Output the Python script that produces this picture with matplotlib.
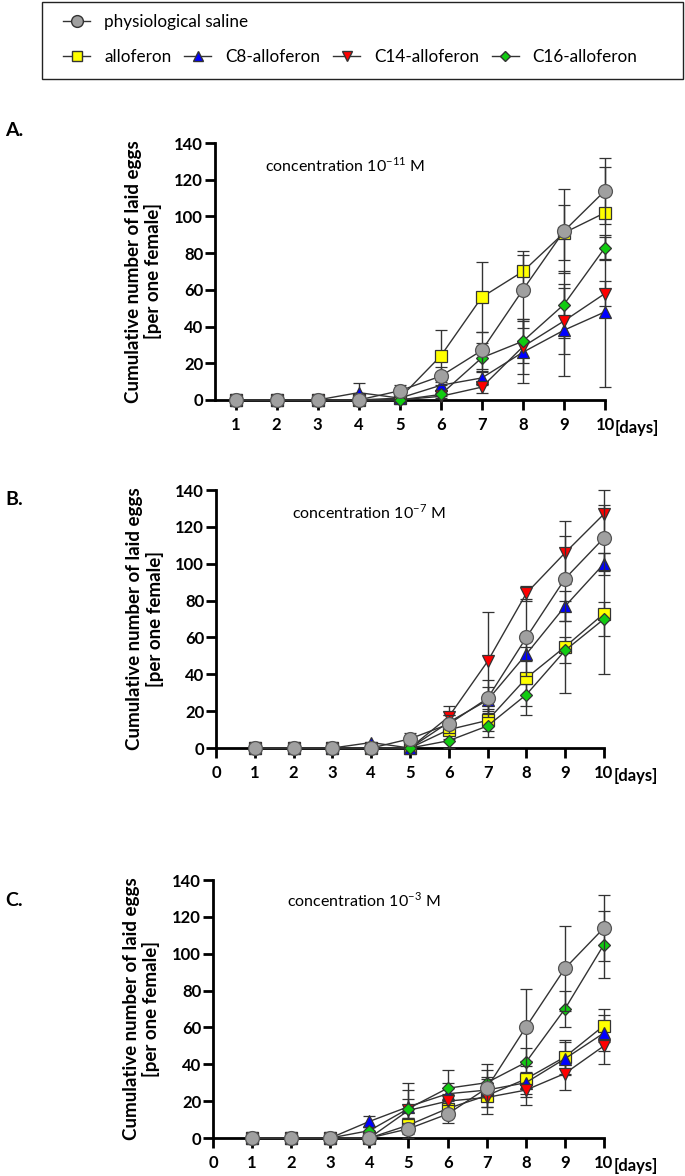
import matplotlib
matplotlib.use("Agg")
import matplotlib.pyplot as plt
from matplotlib.lines import Line2D
from matplotlib.patches import Rectangle

plt.rcParams['font.family'] = ['Lato', 'DejaVu Sans']

# days of observation
days = [1, 2, 3, 4, 5, 6, 7, 8, 9, 10]

# physiological saline (same control in every panel)
saline = [0, 0, 0, 0, 5, 13, 27, 60, 92, 114]
saline_sd = [0, 0, 0, 0, 3, 5, 10, 21, 23, 18]

# concentration 10^-11 M
allo_A = [0, 0, 0, 0, 1, 24, 56, 70, 91, 102]
allo_A_sd = [0, 0, 0, 0, 1, 14, 19, 9, 15, 25]
c8_A = [0, 0, 0, 4, 1, 8, 12, 26, 38, 48]
c8_A_sd = [0, 0, 0, 5, 1, 3, 4, 17, 25, 41]
c14_A = [0, 0, 0, 0, 0, 2, 7, 29, 43, 58]
c14_A_sd = [0, 0, 0, 0, 0, 1, 3, 15, 18, 7]
c16_A = [0, 0, 0, 0, 0, 3, 23, 32, 52, 83]
c16_A_sd = [0, 0, 0, 0, 0, 1, 8, 12, 18, 7]

# concentration 10^-7 M
allo_B = [0, 0, 0, 0, 0, 10, 15, 38, 55, 73]
allo_B_sd = [0, 0, 0, 0, 0, 5, 6, 20, 25, 33]
c8_B = [0, 0, 0, 3, 0, 14, 26, 51, 77, 100]
c8_B_sd = [0, 0, 0, 0, 0, 4, 7, 4, 8, 6]
c14_B = [0, 0, 0, 0, 0, 17, 47, 84, 106, 127]
c14_B_sd = [0, 0, 0, 0, 0, 6, 27, 4, 17, 13]
c16_B = [0, 0, 0, 0, 0, 4, 12, 29, 53, 70]
c16_B_sd = [0, 0, 0, 0, 0, 4, 6, 6, 7, 9]

# concentration 10^-3 M
allo_C = [0, 0, 0, 0, 7, 16, 23, 32, 44, 61]
allo_C_sd = [0, 0, 0, 0, 4, 4, 10, 10, 9, 9]
c8_C = [0, 0, 0, 9, 17, 24, 26, 30, 43, 57]
c8_C_sd = [0, 0, 0, 3, 9, 6, 6, 6, 9, 10]
c14_C = [0, 0, 0, 0, 15, 20, 22, 26, 35, 50]
c14_C_sd = [0, 0, 0, 0, 15, 4, 5, 8, 9, 10]
c16_C = [0, 0, 0, 4, 16, 27, 30, 41, 70, 105]
c16_C_sd = [0, 0, 0, 2, 5, 10, 10, 8, 10, 18]

labels = ['physiological saline', 'alloferon', 'C8-alloferon', 'C14-alloferon', 'C16-alloferon']
styles = {
    'physiological saline': dict(marker='o', mfc='#a0a0a0', ms=10),
    'alloferon': dict(marker='s', mfc='#ffff00', ms=9),
    'C8-alloferon': dict(marker='^', mfc='#0000ff', ms=9),
    'C14-alloferon': dict(marker='v', mfc='#ff0000', ms=9),
    'C16-alloferon': dict(marker='D', mfc='#11cc11', ms=6),
}

panels = [
    ('A.', '-11', [0.3139, 0.6599, 0.5693, 0.2185], 0.5, list(range(1, 11)),
     {'alloferon': (allo_A, allo_A_sd), 'C8-alloferon': (c8_A, c8_A_sd),
      'C14-alloferon': (c14_A, c14_A_sd), 'C16-alloferon': (c16_A, c16_A_sd)},
     (0.128, 0.914), 130),
    ('B.', '-7', [0.3153, 0.3639, 0.5664, 0.2194], 0, list(range(0, 11)),
     {'alloferon': (allo_B, allo_B_sd), 'C8-alloferon': (c8_B, c8_B_sd),
      'C14-alloferon': (c14_B, c14_B_sd), 'C16-alloferon': (c16_B, c16_B_sd)},
     (0.196, 0.915), 500),
    ('C.', '-3', [0.3109, 0.0323, 0.5708, 0.2194], 0, list(range(0, 11)),
     {'alloferon': (allo_C, allo_C_sd), 'C8-alloferon': (c8_C, c8_C_sd),
      'C14-alloferon': (c14_C, c14_C_sd), 'C16-alloferon': (c16_C, c16_C_sd)},
     (0.189, 0.919), 900),
]

fig = plt.figure(figsize=(6.85, 11.76), dpi=100)

for letter, conc, rect, xmin, xticks, series, txtpos, ly in panels:
    ax = fig.add_axes(rect)
    order = ['alloferon', 'C8-alloferon', 'C14-alloferon', 'C16-alloferon']
    for name in order:
        vals, sd = series[name]
        st = styles[name]
        ax.errorbar(days, vals, yerr=sd, color='#333333', lw=1.0, elinewidth=1.0,
                    capsize=4, capthick=1.0, marker=st['marker'], mfc=st['mfc'],
                    mec='#333333', mew=0.9, ms=st['ms'], clip_on=False, zorder=3)
    st = styles['physiological saline']
    ax.errorbar(days, saline, yerr=saline_sd, color='#333333', lw=1.0, elinewidth=1.0,
                capsize=4, capthick=1.0, marker=st['marker'], mfc=st['mfc'],
                mec='#555555', mew=0.9, ms=st['ms'], clip_on=False, zorder=4)

    ax.set_xlim(xmin, 10)
    ax.set_ylim(0, 140)
    ax.set_xticks(xticks)
    ax.set_yticks(range(0, 141, 20))
    for s in ['top', 'right']:
        ax.spines[s].set_visible(False)
    for s in ['left', 'bottom']:
        ax.spines[s].set_linewidth(2)
    ax.tick_params(axis='both', direction='out', width=2, length=7, labelsize=12)
    ax.tick_params(axis='x', pad=5)
    ax.tick_params(axis='y', pad=1.5)
    for t in ax.get_xticklabels() + ax.get_yticklabels():
        t.set_fontweight('bold')

    ax.set_ylabel('Cumulative number of laid eggs\n[per one female]',
                  fontweight='bold', fontsize=13.5, linespacing=1.15)
    ax.yaxis.set_label_coords(-0.135, 0.5)

    ax.annotate('[days]', xy=(10, 0), xycoords=('data', 'axes fraction'),
                xytext=(7, -20), textcoords='offset points', ha='left', va='center',
                fontsize=12, fontweight='bold')

    ax.text(txtpos[0], txtpos[1], r'concentration 10$^{\mathregular{' + conc + r'}}$ M',
            transform=ax.transAxes, fontsize=11.5, ha='left', va='center')

    fig.text(0.008, 1 - ly / 1176, letter, fontsize=14, fontweight='bold', va='center')

# legend box
handles = []
for name in labels:
    st = styles[name]
    handles.append(Line2D([0], [0], color='#333333', lw=1.0, marker=st['marker'],
                          mfc=st['mfc'], mec='#333333', ms=st['ms'] * 0.85))

fig.add_artist(Rectangle((0.061, 0.933), 0.936, 0.065, transform=fig.transFigure,
                         fill=False, lw=1.0, ec='#222222'))
fig.legend(handles[:1], labels[:1], loc='center left', bbox_to_anchor=(0.092, 0.981),
           frameon=False, fontsize=12.3, handlelength=1.6, handletextpad=0.8,
           borderpad=0, borderaxespad=0)
fig.legend(handles[1:], labels[1:], loc='center left', bbox_to_anchor=(0.092, 0.9515),
           ncol=4, frameon=False, fontsize=12.3, handlelength=1.6, handletextpad=0.8,
           columnspacing=0.75, borderpad=0, borderaxespad=0)

fig.savefig('out.png', dpi=100)
